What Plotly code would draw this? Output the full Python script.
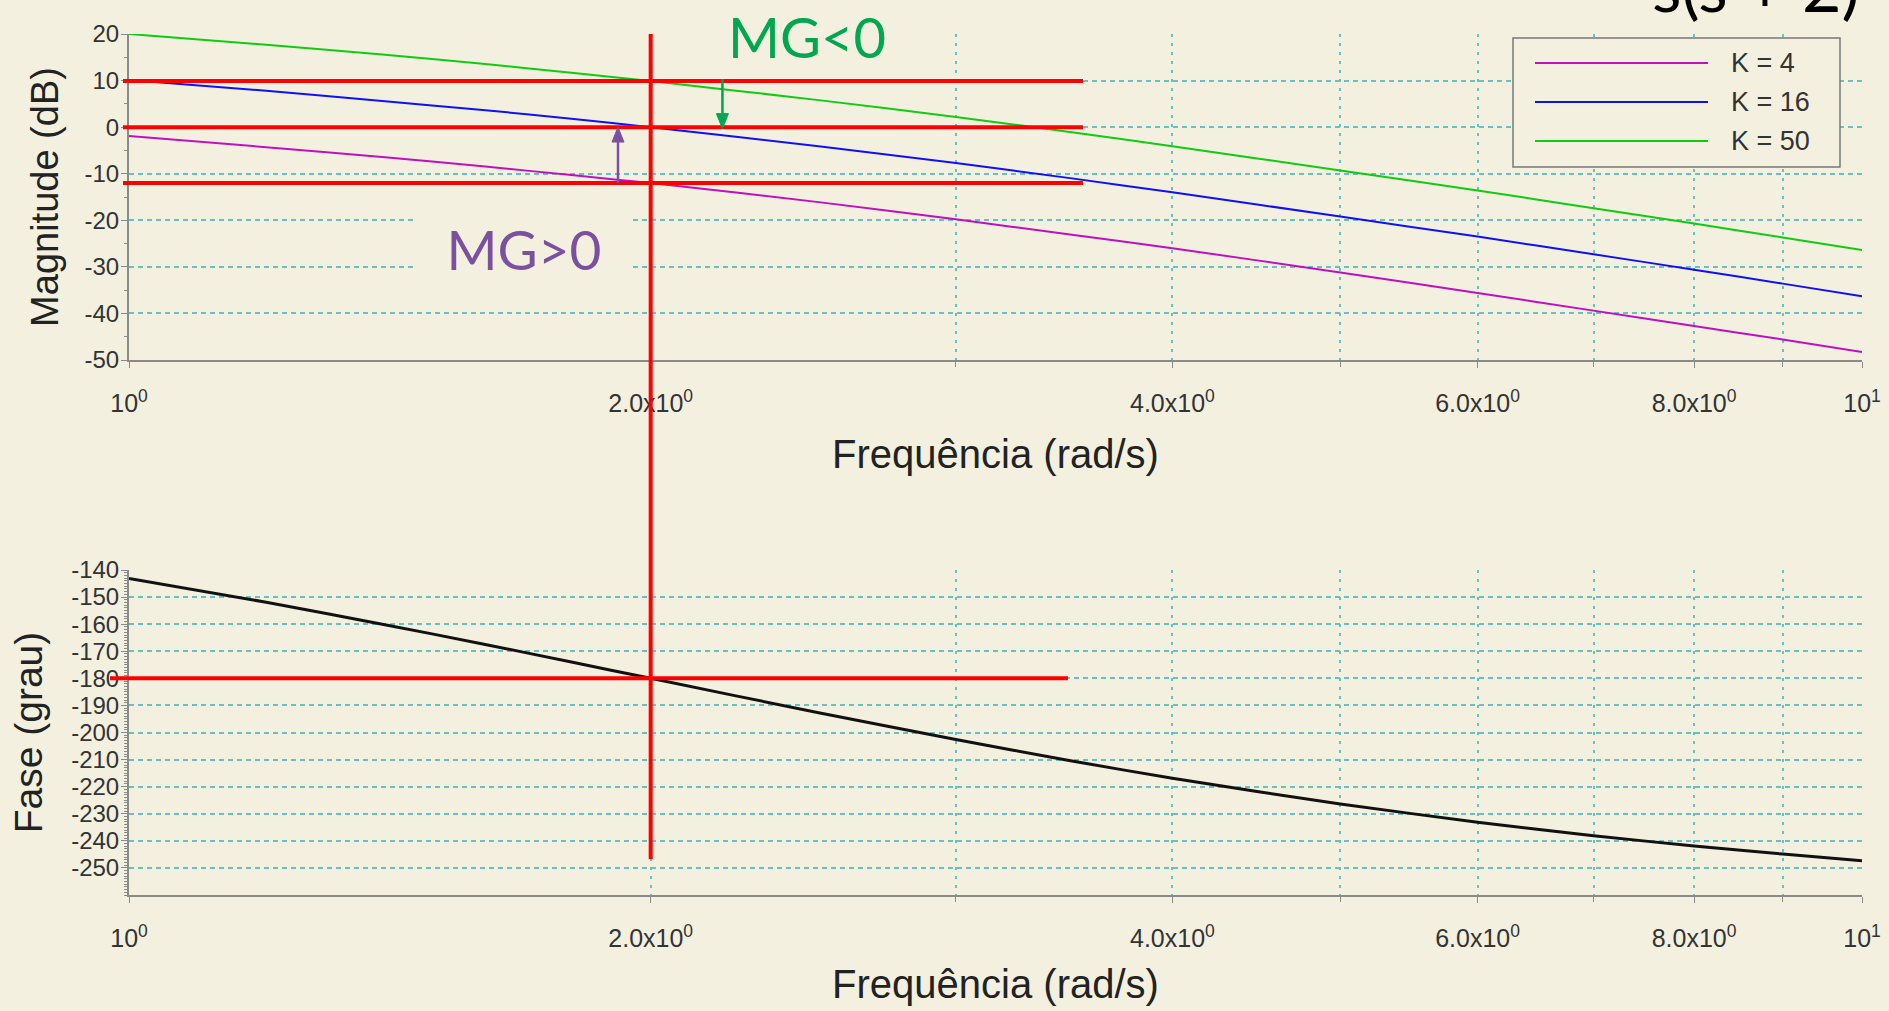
import numpy as np
import plotly.graph_objects as go

# ---------------- data ----------------
freq = [1, 1.2, 1.4, 1.6, 1.8, 2, 2.5, 3, 3.5, 4, 5, 6, 7, 8, 9, 10]
mag_k4 = [-1.9, -4.3, -6.4, -8.4, -10.3, -12.0, -16.1, -19.8, -23.1, -26.0,
          -31.2, -35.6, -39.4, -42.7, -45.6, -48.3]
mag_k16 = [10.1, 7.8, 5.6, 3.7, 1.8, 0.0, -4.1, -7.7, -11.0, -14.0,
           -19.2, -23.5, -27.3, -30.6, -33.6, -36.3]
mag_k50 = [20.0, 17.7, 15.6, 13.6, 11.7, 9.9, 5.8, 2.2, -1.1, -4.1,
           -9.3, -13.6, -17.4, -20.7, -23.7, -26.4]
phase = [-143.1, -151.9, -160.0, -167.3, -174.0, -180.0, -192.7, -202.6,
         -210.5, -216.9, -226.4, -233.1, -238.1, -241.9, -244.9, -247.4]

series_names = ["K = 4", "K = 16", "K = 50"]
series_mags = [mag_k4, mag_k16, mag_k50]

x_tickvals = [1, 2, 4, 6, 8, 10]
x_ticktext = ["10<sup>0</sup>", "2.0x10<sup>0</sup>", "4.0x10<sup>0</sup>",
              "6.0x10<sup>0</sup>", "8.0x10<sup>0</sup>", "10<sup>1</sup>"]
x_minorvals = [3, 5, 7, 9]
mag_ticks = [20, 10, 0, -10, -20, -30, -40, -50]
phase_ticks = [-140, -150, -160, -170, -180, -190, -200, -210, -220, -230, -240, -250]

# marker values
mg_levels = [9.9, 0.0, -12.0]      # |G| of K=50, K=16, K=4 at the phase crossover
cross_freq = 2.0                   # phase crossover frequency
cross_phase = -180
mg_pos_freq, mg_pos_from, mg_pos_to = 1.915, -12.0, 0.0
mg_neg_freq, mg_neg_from, mg_neg_to = 2.2, 10.3, -0.3

# ---------------- style ----------------
W, H = 1889, 1011
ML, MR, MT, MB = 129, 27, 34, 116
BG = "#F3F0E0"
GRID = "#66C2C2"
AXC = "#8a8a8a"
TXT = "#333333"
colors = ["#C010C0", "#1010F5", "#10CC10"]
PURPLE = "#7B50A0"
GREEN = "#00A650"
FONT = "Liberation Sans, Arial, sans-serif"
CAL = "Lato, Open Sans, sans-serif"


def px_x(px):
    return (px - ML) / (W - ML - MR)


def px_y(py):
    return (H - MB - py) / (H - MT - MB)


def hy(v):
    return str(v).replace("\u2212", "-")


top_dom = [px_y(360), 1.0]
bot_dom = [0.0, px_y(570)]

fig = go.Figure()
for name, mag, c in zip(series_names, series_mags, colors):
    fig.add_trace(go.Scatter(x=freq, y=mag, mode="lines", name=name,
                             line=dict(color=c, width=2, shape="spline", smoothing=0.6),
                             xaxis="x", yaxis="y", showlegend=False))
fig.add_trace(go.Scatter(x=freq, y=phase, mode="lines", name="Fase",
                         line=dict(color="#111111", width=3, shape="spline", smoothing=0.6),
                         xaxis="x2", yaxis="y2", showlegend=False))


def xaxis_cfg(standoff):
    return dict(type="log", range=[0, 1], tickmode="array", tickvals=x_tickvals,
                ticktext=x_ticktext, ticks="outside", ticklen=6, tickcolor=AXC,
                ticklabelstandoff=14,
                minor=dict(tickmode="array", tickvals=x_minorvals, ticks="outside", ticklen=5,
                           tickcolor=AXC, showgrid=True, gridcolor=GRID, gridwidth=1.5,
                           griddash="3px,6px"),
                showline=True, linecolor=AXC, linewidth=2,
                showgrid=True, gridcolor=GRID, gridwidth=1.5, griddash="3px,6px",
                zeroline=False, tickfont=dict(family=FONT, size=25, color=TXT),
                title=dict(text="Frequência (rad/s)",
                           font=dict(family=FONT, size=40, color="#222"), standoff=standoff),
                automargin=False)


ycommon = dict(showline=True, linecolor=AXC, linewidth=2, ticks="outside", ticklen=6,
               tickcolor=AXC, showgrid=True, gridcolor=GRID, gridwidth=1.5,
               griddash="5px,4px", zeroline=False, ticklabelstandoff=-3,
               tickfont=dict(family=FONT, size=24, color=TXT), automargin=False)

fig.update_layout(
    width=W, height=H,
    margin=dict(l=ML, r=MR, t=MT, b=MB),
    paper_bgcolor=BG, plot_bgcolor=BG,
    showlegend=False,
    xaxis=dict(xaxis_cfg(24), domain=[0, 1], anchor="y"),
    xaxis2=dict(xaxis_cfg(19), domain=[0, 1], anchor="y2"),
    yaxis=dict(ycommon, domain=top_dom, anchor="x", range=[-50, 20],
               tickmode="array", tickvals=mag_ticks, ticktext=[hy(v) for v in mag_ticks],
               minor=dict(dtick=5, ticks="outside", ticklen=3, tickcolor=AXC, showgrid=False),
               title=dict(text="Magnitude (dB)", font=dict(family=FONT, size=38, color="#222"),
                          standoff=14)),
    yaxis2=dict(ycommon, domain=bot_dom, anchor="x2", range=[-260, -140],
                tickmode="array", tickvals=phase_ticks, ticktext=[hy(v) for v in phase_ticks],
                minor=dict(dtick=1, ticks="outside", ticklen=3, tickcolor=AXC, showgrid=False),
                title=dict(text="Fase (grau)", font=dict(family=FONT, size=39, color="#222"),
                           standoff=17)),
)

shapes = []
# gain margin reference lines (top)
for lv in mg_levels:
    shapes.append(dict(type="line", xref="paper", yref="y", x0=px_x(123), x1=px_x(1083),
                       y0=lv, y1=lv, line=dict(color="#FF0000", width=4)))
# -180 phase line
shapes.append(dict(type="line", xref="paper", yref="y2", x0=px_x(110), x1=px_x(1068),
                   y0=cross_phase, y1=cross_phase, line=dict(color="#FF0000", width=4)))
# vertical line at phase crossover frequency
shapes.append(dict(type="line", xref="x", yref="paper", x0=cross_freq, x1=cross_freq,
                   y0=px_y(859), y1=1.0, line=dict(color="#FF0000", width=4)))

# gain-margin arrows (shaft + filled head); paper x equals log10(freq) since range is [0, 1]
HW = 6 / (W - ML - MR)      # half head width in paper units
HL = 3.2                    # head length in dB
for f, y_from, y_to, col in [(mg_pos_freq, mg_pos_from, mg_pos_to, PURPLE),
                             (mg_neg_freq, mg_neg_from, mg_neg_to, GREEN)]:
    xp = float(np.log10(f))
    sgn = 1 if y_to > y_from else -1
    base = y_to - sgn * HL
    shapes.append(dict(type="line", xref="paper", yref="y", x0=xp, x1=xp, y0=y_from, y1=base,
                       line=dict(color=col, width=2.5)))
    shapes.append(dict(type="path", xref="paper", yref="y",
                       path=f"M {xp - HW},{base} L {xp + HW},{base} L {xp},{y_to} Z",
                       fillcolor=col, line=dict(color=col, width=1)))

# manual legend box
shapes.append(dict(type="rect", xref="paper", yref="paper", x0=px_x(1513), x1=px_x(1840),
                   y0=px_y(167), y1=px_y(38), fillcolor=BG,
                   line=dict(color="#777777", width=1.5)))
legend_rows = [63, 102, 141]
for row, c in zip(legend_rows, colors):
    shapes.append(dict(type="line", xref="paper", yref="paper", x0=px_x(1535), x1=px_x(1708),
                       y0=px_y(row), y1=px_y(row), line=dict(color=c, width=2)))
fig.update_layout(shapes=shapes)

annotations = []
for row, name in zip(legend_rows, series_names):
    annotations.append(dict(xref="paper", yref="paper", x=px_x(1729), y=px_y(row),
                            xanchor="left", yanchor="middle", text=name, showarrow=False,
                            font=dict(family=FONT, size=27, color=TXT)))
# MG labels
annotations.append(dict(xref="paper", yref="paper", x=px_x(524), y=px_y(249),
                        xanchor="center", yanchor="middle", text="MG&gt;0", showarrow=False,
                        bgcolor=BG, width=212, height=80,
                        font=dict(family=CAL, size=55, color=PURPLE)))
annotations.append(dict(xref="paper", yref="paper", x=px_x(807), y=px_y(36),
                        xanchor="center", yanchor="middle", text="MG&lt;0", showarrow=False,
                        bgcolor=BG, width=224, height=72,
                        font=dict(family=CAL, size=56, color=GREEN)))
# partially visible transfer function denominator (cut at the top edge)
annotations.append(dict(xref="paper", yref="paper", x=px_x(1862), y=px_y(28),
                        xanchor="right", yanchor="bottom", text="s(s + 2)", showarrow=False,
                        font=dict(family=CAL, size=68, color="#000000")))
fig.update_layout(annotations=annotations)

fig.write_html("out.html")
